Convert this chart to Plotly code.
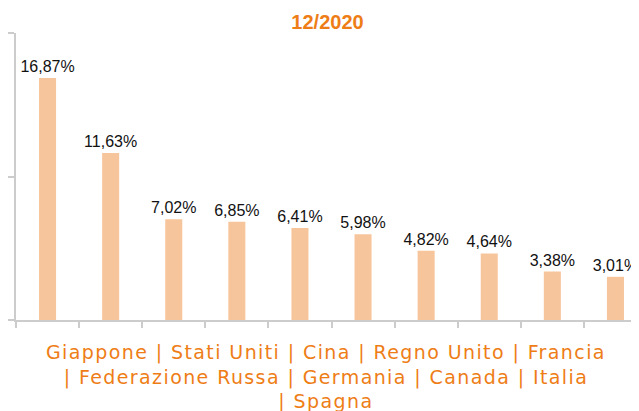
import plotly.graph_objects as go

categories = ["Giappone", "Stati Uniti", "Cina", "Regno Unito", "Francia",
              "Federazione Russa", "Germania", "Canada", "Italia", "Spagna"]
values = [16.87, 11.63, 7.02, 6.85, 6.41, 5.98, 4.82, 4.64, 3.38, 3.01]
labels = [f"{v:.2f}".replace(".", ",") + "%" for v in values]
title_text = "12/2020"
axis_lines = ["Giappone | Stati Uniti | Cina | Regno Unito | Francia",
              "| Federazione Russa | Germania | Canada | Italia",
              "| Spagna"]

ORANGE = "#EE7D16"
BAR = "#F6C59B"
GRID = "#CCCCCC"

axis_title = "<br>".join(
    f'<span style="letter-spacing:1.4px">{ln}</span>' for ln in axis_lines)

fig = go.Figure(go.Bar(
    x=categories, y=values, text=labels, textposition="outside",
    constraintext="none",
    textfont=dict(family="Liberation Sans, Arial", size=16, color="#111111"),
    marker=dict(color=BAR, line=dict(width=0)), width=0.27, cliponaxis=False,
))

fig.add_annotation(
    text=axis_title, xref="paper", yref="paper", x=0.492, y=0,
    xanchor="center", yanchor="top", yshift=-19, showarrow=False,
    align="center",
    font=dict(family="DejaVu Sans", size=19, color=ORANGE),
)

fig.update_layout(
    width=639, height=411,
    margin=dict(l=8, r=0, t=25, b=99, autoexpand=False),
    paper_bgcolor="white", plot_bgcolor="white",
    showlegend=False,
    title=dict(text=f"<b>{title_text}</b>", x=0.5, xanchor="center",
               y=1 - 14 / 411, yanchor="middle", yref="container",
               font=dict(family="Liberation Sans, Arial", size=20, color=ORANGE)),
    xaxis=dict(
        type="category", range=[-0.5, 9.5], showticklabels=False,
        showline=True, linecolor=GRID, linewidth=2,
        ticks="outside", tickson="boundaries", ticklen=6, tickcolor=GRID, tickwidth=2,
        showgrid=False, automargin=False,
    ),
    yaxis=dict(
        range=[0, 20], tickvals=[0, 10, 20], showticklabels=False,
        showline=True, linecolor=GRID, linewidth=2,
        ticks="outside", ticklen=7, tickcolor=GRID, tickwidth=2,
        showgrid=False, zeroline=False, automargin=False,
    ),
)

fig.write_html("out.html")
